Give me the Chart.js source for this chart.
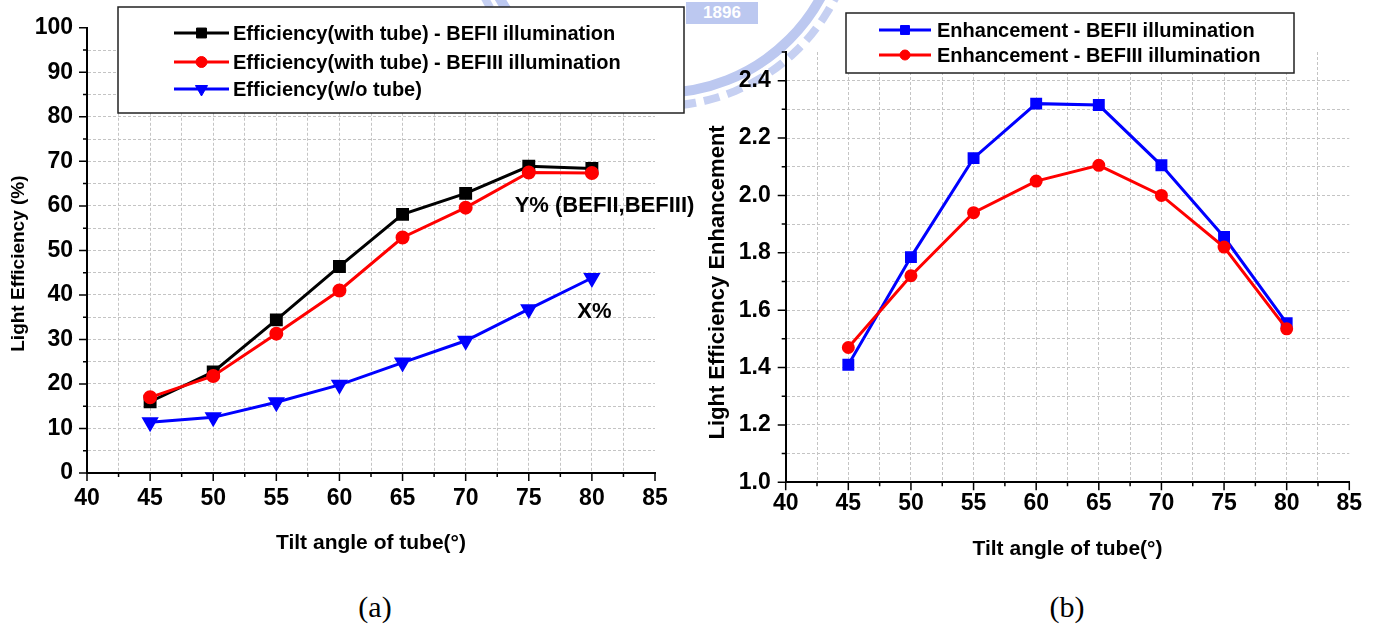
<!DOCTYPE html>
<html>
<head>
<meta charset="utf-8">
<script src="https://cdn.jsdelivr.net/npm/chart.js@4.4.0/dist/chart.umd.min.js"></script>
<style>
  body { margin: 0; background: #fff; }
  #page { position: relative; width: 1380px; height: 625px; overflow: hidden; background: #fff; }
  canvas { position: absolute; top: 0; }
  #chartA { left: 0; }
  #chartB { left: 690px; }
  .caption { position: absolute; font-family: 'Liberation Serif', 'Times New Roman', serif; font-size: 30px; transform: translate(-50%, -50%); }
  .ring { position: absolute; border-radius: 50%; }
  .ring.inner { left: 472px; top: -278px; width: 356px; height: 356px; border: 10px solid #bcc8f0; }
  .ring.teeth { left: 460px; top: -290px; width: 384px; height: 384px; border: 8px dashed #c6d0f2; }
  .stamp { position: absolute; left: 686px; top: 2px; width: 72px; height: 22px; background: #bcc8f0; color: #fff; font: bold 17px 'Liberation Sans', Arial, sans-serif; text-align: center; line-height: 22px; }
</style>
</head>
<body>
<div id="page">
  <div class="ring inner"></div>
  <div class="ring teeth"></div>
  <div class="stamp">1896</div>
  <canvas id="chartA" width="720" height="580"></canvas>
  <canvas id="chartB" width="690" height="580"></canvas>
  <div class="caption" style="left:375px; top:607px">(a)</div>
  <div class="caption" style="left:1067px; top:607px">(b)</div>
</div>
<script>
// tilt angle of tube (deg)
const tiltAngles = [45, 50, 55, 60, 65, 70, 75, 80];

// (a) light efficiency in %
const effTubeBEFII = [16.0, 22.7, 34.4, 46.4, 58.1, 62.8, 68.9, 68.4];
const effTubeBEFIII = [17.0, 21.8, 31.3, 41.0, 52.9, 59.6, 67.5, 67.4];
const effNoTube = [11.4, 12.5, 15.9, 19.8, 24.8, 29.7, 36.8, 43.8];

// (b) enhancement ratio
const enhBEFII = [1.41, 1.785, 2.13, 2.32, 2.315, 2.105, 1.855, 1.555];
const enhBEFIII = [1.47, 1.72, 1.94, 2.05, 2.105, 2.0, 1.82, 1.535];

const FONT = "'Liberation Sans', Arial, sans-serif";
const tickFont = { family: FONT, size: 23, weight: 'bold' };

const points = vals => vals.map((v, i) => ({ x: tiltAngles[i], y: v }));

const gridColor = max => c => (c.tick && Math.abs(c.tick.value - max) < 1e-6) ? 'rgba(0,0,0,0)' : '#c4c4c4';

// outward tick marks, long on labelled ticks, short on the others
const tickMarks = {
  id: 'tickMarks',
  afterDraw(chart) {
    const { ctx } = chart;
    const { x, y } = chart.scales;
    ctx.save();
    ctx.strokeStyle = '#000';
    ctx.lineWidth = 1.5;
    ctx.beginPath();
    x.ticks.forEach(t => {
      const px = x.getPixelForValue(t.value);
      const len = t.label !== '' ? 8 : 4;
      ctx.moveTo(px, x.top);
      ctx.lineTo(px, x.top + len);
    });
    y.ticks.forEach(t => {
      const py = y.getPixelForValue(t.value);
      const len = t.label !== '' ? 8 : 4;
      ctx.moveTo(y.right, py);
      ctx.lineTo(y.right - len, py);
    });
    ctx.stroke();
    ctx.restore();
  }
};

// framed legend drawn inside the plot
const boxLegend = {
  id: 'boxLegend',
  afterDraw(chart, args, opts) {
    const { ctx } = chart;
    const b = opts.box;
    ctx.save();
    ctx.fillStyle = '#fff';
    ctx.fillRect(b.left, b.top, b.right - b.left, b.bottom - b.top);
    ctx.strokeStyle = '#222';
    ctx.lineWidth = 1.5;
    ctx.strokeRect(b.left, b.top, b.right - b.left, b.bottom - b.top);
    ctx.font = 'bold 20px ' + FONT;
    ctx.textBaseline = 'middle';
    chart.data.datasets.forEach((ds, i) => {
      const rowY = opts.rows[i];
      ctx.strokeStyle = ds.borderColor;
      ctx.lineWidth = ds.borderWidth;
      ctx.beginPath();
      ctx.moveTo(opts.lineFrom, rowY);
      ctx.lineTo(opts.lineTo, rowY);
      ctx.stroke();
      ctx.fillStyle = ds.pointBackgroundColor;
      ctx.lineWidth = 1;
      Chart.helpers.drawPoint(ctx, {
        pointStyle: ds.pointStyle, rotation: ds.pointRotation || 0,
        radius: ds.pointRadius, borderWidth: 1
      }, (opts.lineFrom + opts.lineTo) / 2, rowY);
      ctx.fillStyle = '#000';
      ctx.fillText(ds.label, opts.textX, rowY + 1);
    });
    ctx.restore();
  }
};

// free text notes placed at data coordinates
const notes = {
  id: 'notes',
  afterDatasetsDraw(chart, args, opts) {
    if (!opts.items) return;
    const { ctx } = chart;
    const { x, y } = chart.scales;
    ctx.save();
    ctx.font = 'bold 22px ' + FONT;
    ctx.fillStyle = '#000';
    ctx.textAlign = 'center';
    ctx.textBaseline = 'middle';
    opts.items.forEach(n => ctx.fillText(n.text, x.getPixelForValue(n.x), y.getPixelForValue(n.y)));
    ctx.restore();
  }
};

function lineSet(label, vals, color, style, radius, rotation, order) {
  return {
    label, data: points(vals), order,
    borderColor: color, backgroundColor: color,
    pointBackgroundColor: color, pointBorderColor: color,
    pointStyle: style, pointRadius: radius, pointRotation: rotation,
    borderWidth: 3, tension: 0, fill: false
  };
}

function makeOptions(c) {
  return {
    responsive: false,
    animation: false,
    layout: { padding: c.padding },
    plugins: {
      legend: { display: false },
      tooltip: { enabled: false },
      boxLegend: c.legend,
      notes: { items: c.notes }
    },
    scales: {
      x: {
        type: 'linear', min: 40, max: 85,
        afterFit: s => { s.height = c.xHeight; },
        ticks: {
          stepSize: 2.5, autoSkip: false, maxRotation: 0, padding: c.xTickPad,
          color: '#000', font: tickFont,
          callback: v => (v % 5 === 0 ? String(v) : '')
        },
        grid: { color: gridColor(85), lineWidth: 1, drawTicks: false },
        border: { color: '#000', width: 2, dash: [3, 2] },
        title: {
          display: true, text: 'Tilt angle of tube(°)', color: '#000',
          font: { family: FONT, size: 21, weight: 'bold' },
          padding: { top: 0, bottom: c.xTitlePad }
        }
      },
      y: {
        min: c.yMin, max: c.yMax,
        afterFit: s => { s.width = c.yWidth; },
        ticks: {
          stepSize: c.yStep, autoSkip: false, padding: c.yTickPad,
          color: '#000', font: tickFont, callback: c.yLabel
        },
        grid: { color: gridColor(c.yMax), lineWidth: 1, drawTicks: false },
        border: { color: '#000', width: 2, dash: [3, 2] },
        title: {
          display: true, text: c.yTitle, color: '#000',
          font: { family: FONT, size: c.yTitleSize, weight: 'bold' },
          padding: { top: c.yTitlePad, bottom: 0 }
        }
      }
    }
  };
}

new Chart(document.getElementById('chartA'), {
  type: 'line',
  data: {
    datasets: [
      lineSet('Efficiency(with tube) - BEFII illumination', effTubeBEFII, '#000000', 'rect', 7, 0, 3),
      lineSet('Efficiency(with tube) - BEFIII illumination', effTubeBEFIII, '#ff0000', 'circle', 5.5, 0, 2),
      lineSet('Efficiency(w/o tube)', effNoTube, '#0000ff', 'triangle', 7, 180, 1)
    ]
  },
  options: makeOptions({
    padding: { left: 0, right: 65, top: 26, bottom: 0 },
    xHeight: 107, xTickPad: 12, xTitlePad: 24,
    yMin: 0, yMax: 100, yStep: 5, yWidth: 87, yTickPad: 14,
    yLabel: v => (v % 10 === 0 ? String(v) : ''),
    yTitle: 'Light Efficiency (%)     ', yTitleSize: 19, yTitlePad: 7,
    legend: {
      box: { left: 118, top: 7, right: 684, bottom: 113 },
      rows: [33, 62, 89], lineFrom: 174, lineTo: 229, textX: 233
    },
    notes: [
      { text: 'Y% (BEFII,BEFIII)', x: 81.0, y: 59.9 },
      { text: 'X%', x: 80.2, y: 36.2 }
    ]
  }),
  plugins: [tickMarks, notes, boxLegend]
});

new Chart(document.getElementById('chartB'), {
  type: 'line',
  data: {
    datasets: [
      lineSet('Enhancement - BEFII illumination', enhBEFII, '#0000ff', 'rect', 6.3, 0, 2),
      lineSet('Enhancement - BEFIII illumination', enhBEFIII, '#ff0000', 'circle', 5, 0, 1)
    ]
  },
  options: makeOptions({
    padding: { left: 0, right: 30.7, top: 52, bottom: 0 },
    xHeight: 97.7, xTickPad: 8, xTitlePad: 18,
    yMin: 1.0, yMax: 2.5, yStep: 0.1, yWidth: 95.7, yTickPad: 15,
    yLabel: v => (Math.round(v * 10) % 2 === 0 ? v.toFixed(1) : ''),
    yTitle: 'Light Efficiency Enhancement     ', yTitleSize: 22, yTitlePad: 15,
    legend: {
      box: { left: 156, top: 13, right: 604, bottom: 73 },
      rows: [30, 55], lineFrom: 189, lineTo: 241, textX: 247
    }
  }),
  plugins: [tickMarks, notes, boxLegend]
});
</script>
</body>
</html>
